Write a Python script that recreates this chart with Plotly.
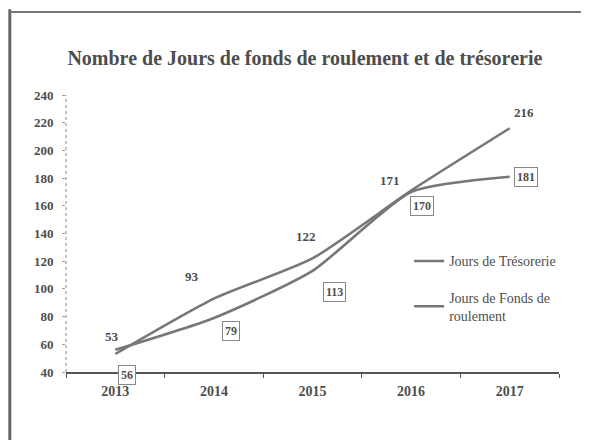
import plotly.graph_objects as go

years = ["2013", "2014", "2015", "2016", "2017"]
tresorerie = [53, 93, 122, 171, 216]
fonds_roulement = [56, 79, 113, 170, 181]
y_ticks = [40, 60, 80, 100, 120, 140, 160, 180, 200, 220, 240]

# label offsets (pixels) for data labels (dx right, dy down)
tres_offsets = [(-3, -18), (-22, -22), (-7, -22), (-21, -10), (14, -16)]
fdr_offsets = [(12, 25), (17, 13), (22, 21), (11, 14), (16, 0)]

SERIF = "Liberation Serif, DejaVu Serif, serif"
TXT = "#4d4d4d"
LINE = "#777777"

fig = go.Figure()
fig.add_trace(go.Scatter(
    x=years, y=tresorerie, mode="lines", name="Jours de Trésorerie", legendgroup="a",
    line=dict(color=LINE, width=2.6, shape="spline", smoothing=0.6),
))
fig.add_trace(go.Scatter(
    x=years, y=fonds_roulement, mode="lines", name="Jours de Fonds de<br>roulement", legendgroup="b",
    line=dict(color=LINE, width=2.6, shape="spline", smoothing=0.6),
))

for i, (v, (dx, dy)) in enumerate(zip(tresorerie, tres_offsets)):
    fig.add_annotation(x=i, y=v, text=str(v), showarrow=False,
                       xshift=dx, yshift=-dy,
                       font=dict(family=SERIF, size=13, color=TXT, weight="bold"))
for i, (v, (dx, dy)) in enumerate(zip(fonds_roulement, fdr_offsets)):
    fig.add_annotation(x=i, y=v, text=str(v), showarrow=False,
                       xshift=dx, yshift=-dy, bordercolor="#888888", borderwidth=1,
                       borderpad=2, bgcolor="white",
                       font=dict(family=SERIF, size=12, color=TXT, weight="bold"))

# page frame (scan border) and dotted y-axis
fig.add_shape(type="line", xref="paper", yref="paper", x0=-0.114, x1=-0.114, y0=1.31, y1=-0.3,
              line=dict(color="#666666", width=3))
fig.add_shape(type="line", xref="paper", yref="paper", x0=-0.114, x1=1.1, y0=1.30, y1=1.30,
              line=dict(color="#777777", width=2))
fig.add_shape(type="line", xref="paper", yref="paper", x0=0, x1=0, y0=0, y1=1,
              line=dict(color="#888888", width=1, dash="dot"))

fig.update_layout(
    width=589, height=440,
    margin=dict(l=58, r=38, t=87, b=76, autoexpand=False),
    paper_bgcolor="white", plot_bgcolor="white",
    title=dict(text="Nombre de Jours de fonds de roulement et de trésorerie",
               x=0.504, xanchor="center", y=0.886, yanchor="middle",
               font=dict(family=SERIF, size=20, color=TXT, weight="bold")),
    showlegend=True,
    legend=dict(x=0.696, y=0.457, xanchor="left", yanchor="top",
                font=dict(family=SERIF, size=14, color=TXT),
                itemwidth=30, tracegroupgap=15, bgcolor="rgba(0,0,0,0)"),
    xaxis=dict(type="category", range=[-0.5, 4.5], showgrid=False, automargin=False,
               showline=True, linecolor="#555555", linewidth=1.5,
               ticks="outside", tickson="boundaries", ticklen=4, tickcolor="#555555",
               ticklabelstandoff=5,
               tickfont=dict(family=SERIF, size=14, color=TXT, weight="bold")),
    yaxis=dict(range=[40, 240], tickvals=y_ticks, showgrid=False, zeroline=False, automargin=False,
               showline=False, ticks="outside", ticklen=3, tickcolor="#999999",
               ticklabelstandoff=6,
               tickfont=dict(family=SERIF, size=13, color=TXT, weight="bold")),
)

fig.write_html("out.html")
